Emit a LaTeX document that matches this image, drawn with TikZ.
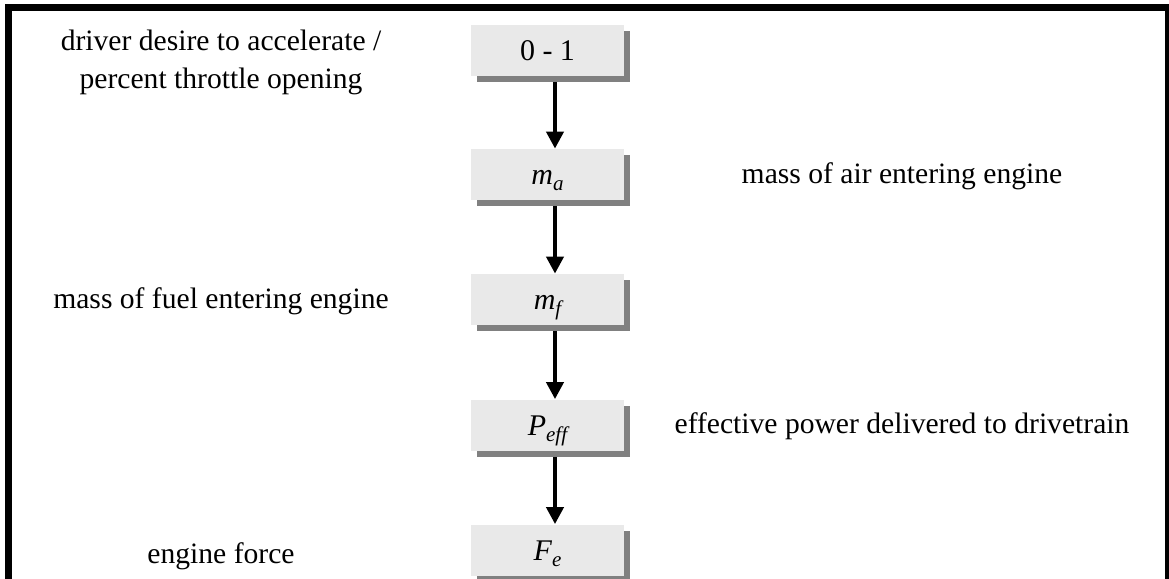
\documentclass[tikz,border=0pt]{standalone}
\usepackage{fontspec}
\setmainfont{Liberation Serif}
\usetikzlibrary{shadows,arrows.meta}
\definecolor{boxfill}{RGB}{233,233,233}
\definecolor{shadowgray}{RGB}{128,128,128}
\newcommand\sbx[1]{\raisebox{-0.45ex}{\fontsize{10.5}{11}\selectfont\itshape #1}}
\tikzset{
  blk/.style={rectangle, fill=boxfill, minimum width=76.5pt, minimum height=25.5pt,
    inner sep=0pt, text height=12pt, text depth=2pt, font=\fontsize{15}{17}\selectfont,
    drop shadow={shadow xshift=3pt, shadow yshift=-3pt, fill=shadowgray, opacity=1}},
  desc/.style={anchor=base, font=\fontsize{14.8}{19}\selectfont, inner sep=0pt, align=center},
  arr/.style={line width=2pt, -{Triangle[width=8.5pt,length=8.5pt]}},
}
\begin{document}
\begin{tikzpicture}[x=0.5pt,y=-0.5pt]
\useasboundingbox (0,0) rectangle (1169,579);
\clip (0,0) rectangle (1169,579);
\draw[line width=3.5pt] (8.5,7) rectangle (1168.5,650);
\node[blk] (b1) at (547.5,50.5) {0 - 1};
\node[blk] (b2) at (547.5,174.5) {\textit{m}\sbx{a}};
\node[blk] (b3) at (547.5,299.5) {\textit{m}\sbx{f}};
\node[blk] (b4) at (547.5,425) {\textit{P}\sbx{eff}};
\node[blk] (b5) at (547.5,550) {\textit{F}\sbx{e}};
\foreach \a/\b in {b1/b2,b2/b3,b3/b4,b4/b5}
  \draw[arr] ([xshift=3.75pt,yshift=-3pt]\a.south) -- ([xshift=3.75pt]\b.north);
\node[desc] (d1) at (221,88) {driver desire to accelerate /\\percent throttle opening};
\node[desc] (d2) at (902,183) {mass of air entering engine};
\node[desc] (d3) at (221,308) {mass of fuel entering engine};
\node[desc] (d4) at (902,433) {effective power delivered to drivetrain};
\node[desc] (d5) at (221,563) {engine force};
\end{tikzpicture}
\end{document}
